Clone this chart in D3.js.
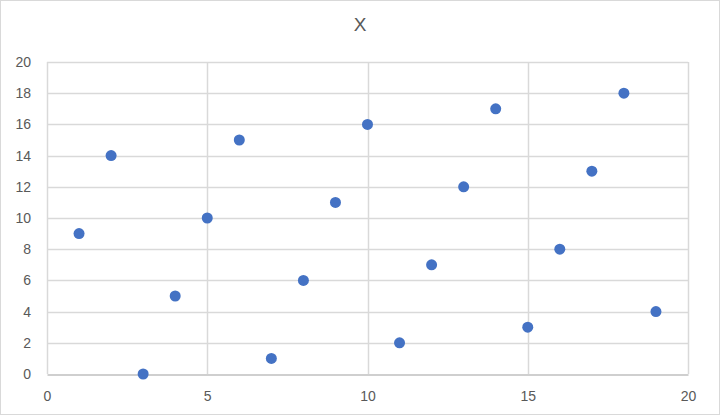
<!DOCTYPE html>
<html>
<head>
<meta charset="utf-8">
<script src="https://cdn.jsdelivr.net/npm/d3@7"></script>
<style>
  body { margin: 0; background: #fff; }
  text { font-family: "Liberation Sans", Arial, sans-serif; }
</style>
</head>
<body>
<div id="chart"></div>
<script>
// values
var xValues = [1, 2, 3, 4, 5, 6, 7, 8, 9, 10, 11, 12, 13, 14, 15, 16, 17, 18, 19];
var yValues = [9, 14, 0, 5, 10, 15, 1, 6, 11, 16, 2, 7, 12, 17, 3, 8, 13, 18, 4];
var xTicks = [0, 5, 10, 15, 20];
var yTicks = [0, 2, 4, 6, 8, 10, 12, 14, 16, 18, 20];
var chartTitle = "X";

var width = 720,
    height = 415;

var margin = {top: 62, right: 32, bottom: 41, left: 47},
    gwidth = width - margin.left - margin.right,
    gheight = height - margin.top - margin.bottom;

var svg = d3.select("#chart").append("svg")
            .attr("width", width)
            .attr("height", height);

// outer chart border
svg.append("rect")
   .attr("x", 0.5).attr("y", 0.5)
   .attr("width", width - 1).attr("height", height - 1)
   .style("fill", "none")
   .style("stroke", "#d9d9d9");

svg.append("text")
   .attr("x", width / 2)
   .attr("y", 31)
   .attr("text-anchor", "middle")
   .style("font-size", "19px")
   .style("fill", "#595959")
   .text(chartTitle);

var g = svg.append("g")
           .attr("transform", "translate(" + margin.left + "," + margin.top + ")");

var xScale = d3.scaleLinear().domain([0, 20]).range([0, gwidth]);
var yScale = d3.scaleLinear().domain([0, 20]).range([gheight, 0]);

// gridlines
g.append("g").selectAll("line")
 .data(yTicks.filter(d => d > 0))
 .enter().append("line")
 .attr("x1", 0).attr("x2", gwidth)
 .attr("y1", d => Math.round(yScale(d)) + 0.5)
 .attr("y2", d => Math.round(yScale(d)) + 0.5)
 .style("stroke", "#d9d9d9")
 .style("stroke-width", 1.5);

g.append("g").selectAll("line")
 .data(xTicks)
 .enter().append("line")
 .attr("x1", d => Math.round(xScale(d)) + 0.5)
 .attr("x2", d => Math.round(xScale(d)) + 0.5)
 .attr("y1", 0).attr("y2", gheight)
 .style("stroke", "#d9d9d9")
 .style("stroke-width", 1.5);

// axes
var xAxis = d3.axisBottom(xScale).tickValues(xTicks).tickSize(0).tickPadding(17);
var yAxis = d3.axisLeft(yScale).tickValues(yTicks).tickSize(0).tickPadding(16);

var gx = g.append("g")
          .attr("transform", "translate(0," + (Math.round(gheight) + 0.5) + ")")
          .call(xAxis);
gx.select(".domain").style("stroke", "#bfbfbf").style("stroke-width", 1.5);

var gy = g.append("g").call(yAxis);
gy.select(".domain").remove();

svg.selectAll(".tick text")
   .style("font-size", "14px")
   .style("font-family", "'Liberation Sans', Arial, sans-serif")
   .style("fill", "#595959");

// points
g.append("g").selectAll("circle")
 .data(xValues)
 .enter().append("circle")
 .attr("cx", d => xScale(d))
 .attr("cy", (d, i) => yScale(yValues[i]))
 .attr("r", 5.5)
 .style("fill", "#4472c4");
</script>
</body>
</html>
